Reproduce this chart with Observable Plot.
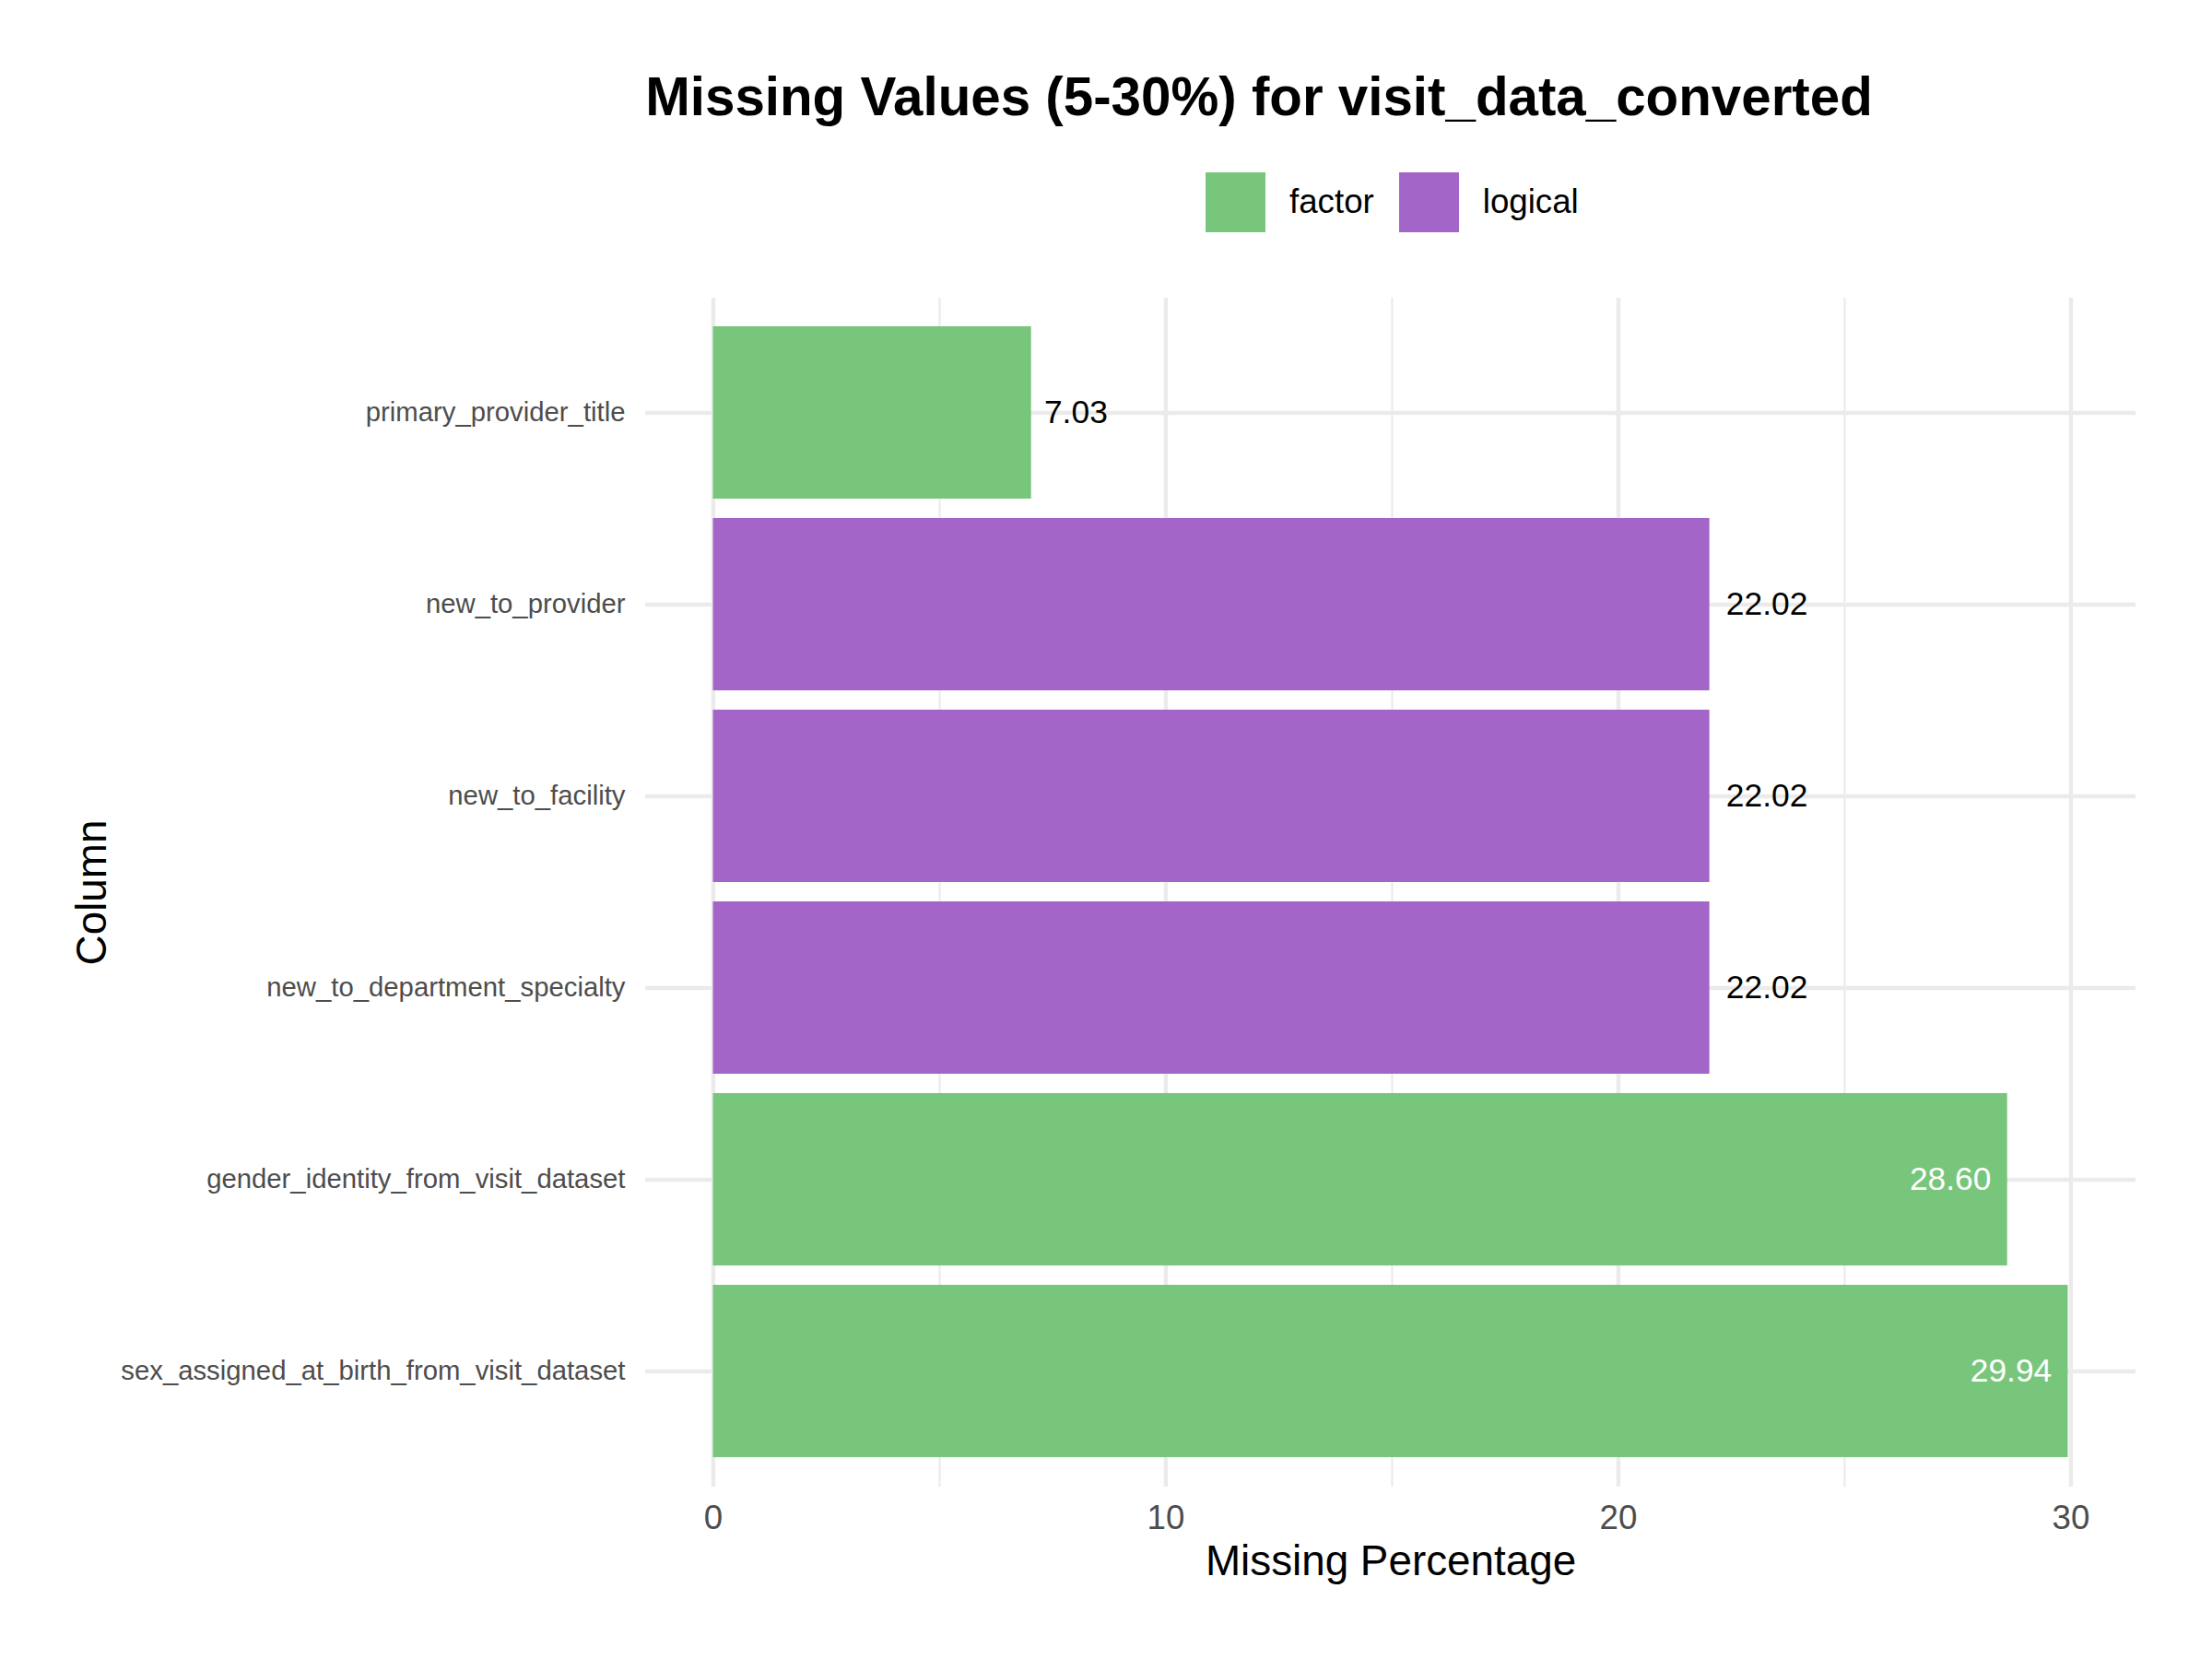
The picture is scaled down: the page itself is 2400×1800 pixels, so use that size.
<!DOCTYPE html>
<html>
<head>
<meta charset="utf-8">
<script src="https://cdn.jsdelivr.net/npm/d3@7"></script>
<script src="https://cdn.jsdelivr.net/npm/@observablehq/plot@0.6"></script>
<style>
  html, body { margin: 0; padding: 0; background: white; }
  #page { position: relative; width: 2400px; height: 1800px; background: white; font-family: "Liberation Sans", Arial, Helvetica, sans-serif; }
  #header { position: relative; width: 2400px; height: 300px; }
  #title { position: absolute; left: 1366px; top: 75.6px; transform: translateX(-50%); font-size: 58.3px; line-height: 1; font-weight: bold; color: black; white-space: nowrap; }
  #legend { position: absolute; left: 1308px; top: 187px; height: 65px; display: flex; align-items: center; }
  #legend .sw { width: 65px; height: 65px; }
  #legend .lab { font-size: 36.7px; line-height: 1; color: black; margin-left: 26px; margin-right: 27px; white-space: nowrap; }
</style>
</head>
<body>
<div id="page">
  <div id="header">
    <div id="title">Missing Values (5-30%) for visit_data_converted</div>
    <div id="legend"></div>
  </div>
  <div id="chart"></div>
</div>
<script>
const columns = [
  "primary_provider_title",
  "new_to_provider",
  "new_to_facility",
  "new_to_department_specialty",
  "gender_identity_from_visit_dataset",
  "sex_assigned_at_birth_from_visit_dataset"
];
const missingPct = [7.03, 22.02, 22.02, 22.02, 28.60, 29.94];
const dataTypes = ["factor", "logical", "logical", "logical", "factor", "factor"];
const typeDomain = ["factor", "logical"];
const typeColors = ["#78c67b", "#a465c8"];
const xTicksMajor = [0, 10, 20, 30];
const xTicksMinor = [5, 15, 25];

const data = columns.map((c, i) => ({column: c, pct: missingPct[i], type: dataTypes[i]}));
const insideThreshold = 25;

const xMax = d3.max(missingPct);
const xPad = xMax * 0.05;

const labelFontSize = 35.4;
const ctx = document.createElement("canvas").getContext("2d");
ctx.font = `${labelFontSize}px 'Liberation Sans', Arial, sans-serif`;
const fmt = d => d.pct.toFixed(2);

const labelMarks = data.map(d => {
  const w = ctx.measureText(fmt(d)).width;
  const isInside = d.pct > insideThreshold;
  return Plot.text([d], {
    x: "pct", y: "column", text: fmt,
    textAnchor: isInside ? "end" : "start",
    dx: isInside ? -0.2 * w : 0.2 * w,
    fill: isInside ? "white" : "black",
    fontSize: labelFontSize
  });
});

const plot = Plot.plot({
  width: 2400,
  height: 1500,
  marginTop: 23,
  marginBottom: 187,
  marginLeft: 700,
  marginRight: 83,
  style: {fontFamily: "'Liberation Sans', Arial, Helvetica, sans-serif", background: "white", overflow: "visible"},
  x: {domain: [0 - xPad, xMax + xPad]},
  y: {domain: columns, paddingInner: 0.1, paddingOuter: 0.15},
  color: {domain: typeDomain, range: typeColors},
  marks: [
    Plot.gridX({ticks: xTicksMinor, stroke: "#ebebeb", strokeOpacity: 1, strokeWidth: 2.2}),
    Plot.gridX({ticks: xTicksMajor, stroke: "#ebebeb", strokeOpacity: 1, strokeWidth: 4.4}),
    Plot.gridY({stroke: "#ebebeb", strokeOpacity: 1, strokeWidth: 4.4}),
    Plot.barX(data, {x1: () => 0, x2: "pct", y: "column", fill: "type"}),
    ...labelMarks,
    Plot.axisX({ticks: xTicksMajor, tickSize: 0, tickPadding: 19, fontSize: 36.7, color: "#4d4d4d", label: null}),
    Plot.axisY({tickSize: 0, tickPadding: 22, fontSize: 29.3, color: "#4d4d4d", label: null}),
    Plot.text(["Missing Percentage"], {text: d => d, frameAnchor: "bottom", textAnchor: "middle", lineAnchor: "middle", dy: 81, fontSize: 45.8, fill: "black"}),
    Plot.text(["Column"], {text: d => d, frameAnchor: "left", textAnchor: "middle", lineAnchor: "middle", dx: -600, rotate: -90, fontSize: 45.8, fill: "black"})
  ]
});
document.getElementById("chart").appendChild(plot);

const colorScale = plot.scale("color");
const legend = document.getElementById("legend");
colorScale.domain.forEach((t, i) => {
  const sw = document.createElement("div");
  sw.className = "sw";
  sw.style.background = colorScale.range[i];
  const lab = document.createElement("div");
  lab.className = "lab";
  lab.textContent = t;
  legend.appendChild(sw);
  legend.appendChild(lab);
});
</script>
</body>
</html>
